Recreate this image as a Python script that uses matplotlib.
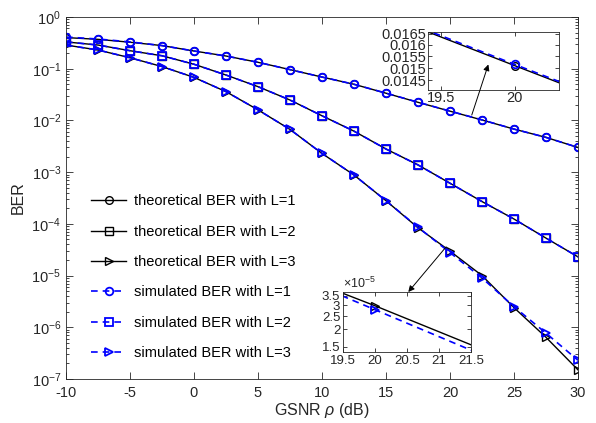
import matplotlib
matplotlib.use('Agg')
import matplotlib.pyplot as plt
from matplotlib.ticker import FixedLocator, FixedFormatter, NullLocator

plt.rcParams['font.family'] = ['Liberation Sans', 'DejaVu Sans']
plt.rcParams['mathtext.fontset'] = 'custom'
plt.rcParams['mathtext.rm'] = 'Liberation Sans'
plt.rcParams['mathtext.it'] = 'Liberation Sans:italic'
plt.rcParams['axes.unicode_minus'] = False

# GSNR points (dB)
gsnr = [-10, -7.5, -5, -2.5, 0, 2.5, 5, 7.5, 10, 12.5, 15, 17.5, 20, 22.5, 25, 27.5, 30]

# theoretical BER
theo_L1 = [0.40, 0.37, 0.325, 0.28, 0.22, 0.176, 0.133, 0.096, 0.069, 0.050, 0.0336,
           0.0224, 0.0151, 0.0102, 0.0068, 0.0047, 0.0030]
theo_L2 = [0.33, 0.287, 0.223, 0.178, 0.122, 0.0755, 0.045, 0.0248, 0.0123, 0.0062,
           0.0028, 0.00138, 6.1e-4, 2.7e-4, 1.24e-4, 5.3e-5, 2.3e-5]
theo_L3 = [0.287, 0.23, 0.163, 0.11, 0.068, 0.036, 0.016, 0.0067, 0.0023, 8.8e-4,
           2.8e-4, 8.4e-5, 2.97e-5, 1.0e-5, 2.4e-6, 6.4e-7, 1.5e-7]

# simulated BER
sim_L1 = [0.41, 0.375, 0.33, 0.28, 0.22, 0.176, 0.133, 0.096, 0.069, 0.050, 0.0337,
          0.0225, 0.01515, 0.01025, 0.0068, 0.0047, 0.0030]
sim_L2 = [0.33, 0.287, 0.223, 0.178, 0.122, 0.0755, 0.045, 0.0248, 0.0123, 0.0062,
          0.0028, 0.00138, 6.1e-4, 2.7e-4, 1.24e-4, 5.3e-5, 2.3e-5]
sim_L3 = [0.287, 0.23, 0.163, 0.11, 0.068, 0.036, 0.016, 0.0067, 0.0023, 8.8e-4,
          2.8e-4, 8.6e-5, 2.78e-5, 9.0e-6, 2.5e-6, 7.7e-7, 2.3e-7]

theo = [theo_L1, theo_L2, theo_L3]
sim = [sim_L1, sim_L2, sim_L3]
markers = ['o', 's', '>']
labels_theo = ['theoretical BER with L=%d' % i for i in (1, 2, 3)]
labels_sim = ['simulated BER with L=%d' % i for i in (1, 2, 3)]

gray = '#262626'
blue = '#0000ff'


def draw_curves(a):
    for y, m, lab in zip(theo, markers, labels_theo):
        a.plot(gsnr, y, color='k', lw=1.0, marker=m, ms=5.5, mfc='none', mec='k',
               mew=1.0, label=lab)
    for y, m, lab in zip(sim, markers, labels_sim):
        a.plot(gsnr, y, color=blue, lw=1.2, ls=(0, (4, 3)), marker=m, ms=5.5, mfc='none',
               mec=blue, mew=1.3, label=lab)


def style(a, size):
    a.tick_params(which='both', direction='in', top=True, right=True, colors=gray,
                  labelsize=size, width=0.6)
    for s in a.spines.values():
        s.set_color(gray)
        s.set_linewidth(0.6)


fig = plt.figure(figsize=(5.96, 4.23), dpi=100)
ax = fig.add_axes([66/596, 1-379/423, 512/596, 362/423])
draw_curves(ax)
ax.set_yscale('log')
ax.set_xlim(-10, 30)
ax.set_ylim(1e-7, 1)
ax.set_xticks([-10, -5, 0, 5, 10, 15, 20, 25, 30])
style(ax, 10.5)
ax.tick_params(which='major', length=5)
ax.tick_params(which='minor', length=2.5)
ax.tick_params(axis='x', pad=5)
ax.set_xlabel(r'GSNR $\rho$ (dB)', fontsize=11.5, color=gray, labelpad=1)
ax.set_ylabel('BER', fontsize=11.5, color=gray, labelpad=4)
ax.legend(loc='center left', bbox_to_anchor=(0.035, 0.281), frameon=False, fontsize=10.5,
          handlelength=2.4, handletextpad=0.5, labelspacing=1.12, borderpad=0)

# inset 1 (L=1 around 20 dB)
ins1 = fig.add_axes([428/596, 1-90/423, 131/596, 58/423])
draw_curves(ins1)
ins1.set_yscale('log')
ins1.set_xlim(19.41, 20.30)
ins1.set_ylim(0.01412, 0.01657)
ins1.yaxis.set_major_locator(FixedLocator([0.0145, 0.015, 0.0155, 0.016, 0.0165]))
ins1.yaxis.set_major_formatter(FixedFormatter(['0.0145', '0.015', '0.0155', '0.016', '0.0165']))
ins1.yaxis.set_minor_locator(NullLocator())
ins1.set_xticks([19.5, 20])
ins1.set_xticklabels(['19.5', '20'])
style(ins1, 10.5)
ins1.tick_params(length=3, pad=1)

# inset 2 (L=3 around 20 dB)
ins2 = fig.add_axes([343/596, 1-352/423, 128/596, 60/423])
draw_curves(ins2)
ins2.set_yscale('log')
ins2.set_xlim(19.5, 21.5)
ins2.set_ylim(1.37e-5, 3.74e-5)
ins2.yaxis.set_major_locator(FixedLocator([1.5e-5, 2e-5, 2.5e-5, 3e-5, 3.5e-5]))
ins2.yaxis.set_major_formatter(FixedFormatter(['1.5', '2', '2.5', '3', '3.5']))
ins2.yaxis.set_minor_locator(NullLocator())
ins2.set_xticks([19.5, 20, 20.5, 21, 21.5])
ins2.set_xticklabels(['19.5', '20', '20.5', '21', '21.5'])
style(ins2, 9.5)
ins2.tick_params(length=3, pad=2)
ins2.text(0.0, 1.02, r'$\times10^{-5}$', transform=ins2.transAxes, fontsize=9,
          color=gray, ha='left', va='bottom')

# arrows from curves to insets
arrow = dict(arrowstyle='-|>', color='k', lw=0.7, mutation_scale=9, shrinkA=0, shrinkB=0)
ins1.annotate('', xy=(19.82, 0.01515), xycoords='data', xytext=(21.7, 0.0127),
              textcoords=ax.transData, arrowprops=arrow, annotation_clip=False)
ax.annotate('', xy=(20.52, 3.74e-5), xycoords=ins2.transData, xytext=(19.7, 3.6e-5),
            textcoords='data', arrowprops=arrow, annotation_clip=False)

fig.savefig('out.png', dpi=100)
